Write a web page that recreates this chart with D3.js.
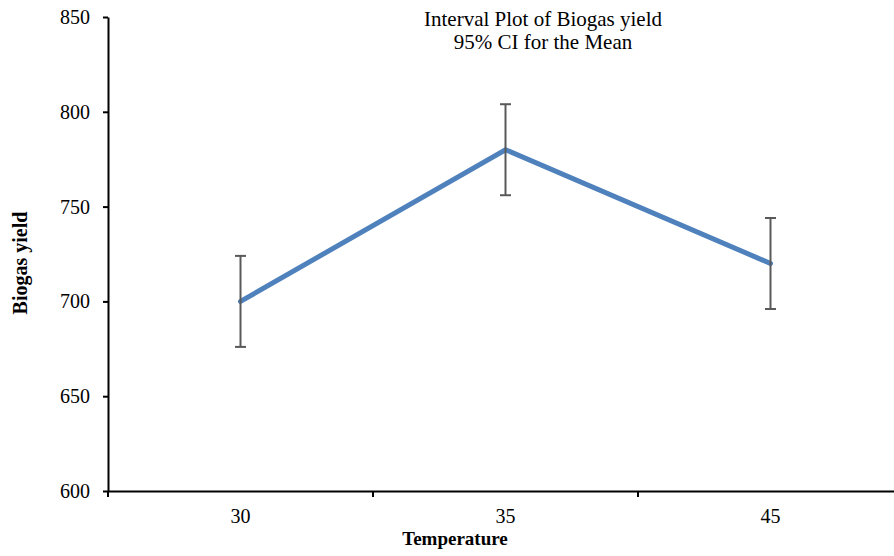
<!DOCTYPE html>
<html>
<head>
<meta charset="utf-8">
<script src="https://cdn.jsdelivr.net/npm/d3@7"></script>
<style>
  body { margin: 0; background: #fff; }
  svg { display: block; }
  text { font-family: "Liberation Serif", "Times New Roman", serif; fill: #000; }
</style>
</head>
<body>
<div id="plotholder"></div>
<script>
const temperatures = ['30', '35', '45']
const means = [700, 780, 720]
const ciHalf = [24, 24, 24]
const yTicks = [600, 650, 700, 750, 800, 850]
const titleLines = ['Interval Plot of Biogas yield', '95% CI for the Mean']

const width = 894
const height = 556
const plot = { left: 108, right: 903, top: 17, bottom: 491 }

const svg = d3.select('#plotholder').append('svg')
  .attr('width', width)
  .attr('height', height)

const xscale = d3.scaleBand()
  .domain(temperatures)
  .range([plot.left, plot.right])

const yscale = d3.scaleLinear()
  .domain([600, 850])
  .range([plot.bottom, plot.top])

const xc = d => xscale(d) + xscale.bandwidth() / 2

// y axis
const yaxis = svg.append('g')
  .attr('transform', `translate(${plot.left},0)`)
  .call(d3.axisLeft(yscale).tickValues(yTicks).tickSize(5).tickPadding(13).tickSizeOuter(0))
yaxis.select('.domain').attr('stroke', '#000').attr('stroke-width', 2)
yaxis.selectAll('.tick line').attr('stroke', '#000').attr('stroke-width', 2)
yaxis.selectAll('.tick text')
  .style('font-family', '"Liberation Serif", serif')
  .style('font-size', '20px')

// x axis: labels at band centres, ticks at band edges
const xaxis = svg.append('g')
  .attr('transform', `translate(0,${plot.bottom})`)
  .call(d3.axisBottom(xscale).tickSize(0).tickPadding(18).tickSizeOuter(0))
xaxis.select('.domain').attr('stroke', '#000').attr('stroke-width', 2)
xaxis.selectAll('.tick text')
  .style('font-family', '"Liberation Serif", serif')
  .style('font-size', '20px')

const edges = temperatures.map(d => xscale(d)).concat([plot.right])
xaxis.selectAll('line.edge')
  .data(edges)
  .enter()
  .append('line')
  .attr('class', 'edge')
  .attr('x1', d => d).attr('x2', d => d)
  .attr('y1', 0).attr('y2', 6)
  .attr('stroke', '#000')
  .attr('stroke-width', 2)

// mean line
const line = d3.line()
  .x((d, i) => xc(temperatures[i]))
  .y(d => yscale(d))

svg.append('path')
  .datum(means)
  .attr('d', line)
  .attr('fill', 'none')
  .attr('stroke', '#4f81bd')
  .attr('stroke-width', 5)
  .attr('stroke-linejoin', 'miter')
  .attr('stroke-linecap', 'round')

// interval bars
const bars = svg.append('g')
  .attr('stroke', '#595959')
  .attr('stroke-width', 2)
temperatures.forEach((t, i) => {
  const x = xc(t)
  const lo = yscale(means[i] - ciHalf[i])
  const hi = yscale(means[i] + ciHalf[i])
  bars.append('line').attr('x1', x).attr('x2', x).attr('y1', hi).attr('y2', lo)
  bars.append('line').attr('x1', x - 5.5).attr('x2', x + 5.5).attr('y1', hi).attr('y2', hi)
  bars.append('line').attr('x1', x - 5.5).attr('x2', x + 5.5).attr('y1', lo).attr('y2', lo)
})

// titles
svg.selectAll('text.title')
  .data(titleLines)
  .enter()
  .append('text')
  .attr('class', 'title')
  .attr('x', 543)
  .attr('y', (d, i) => 26 + i * 23)
  .attr('text-anchor', 'middle')
  .style('font-size', '21px')
  .text(d => d)

svg.append('text')
  .attr('x', 455)
  .attr('y', 545)
  .attr('text-anchor', 'middle')
  .style('font-size', '19px')
  .style('font-weight', 'bold')
  .text('Temperature')

svg.append('text')
  .attr('transform', 'translate(27,263) rotate(-90)')
  .attr('text-anchor', 'middle')
  .style('font-size', '20px')
  .style('font-weight', 'bold')
  .text('Biogas yield')
</script>
</body>
</html>
